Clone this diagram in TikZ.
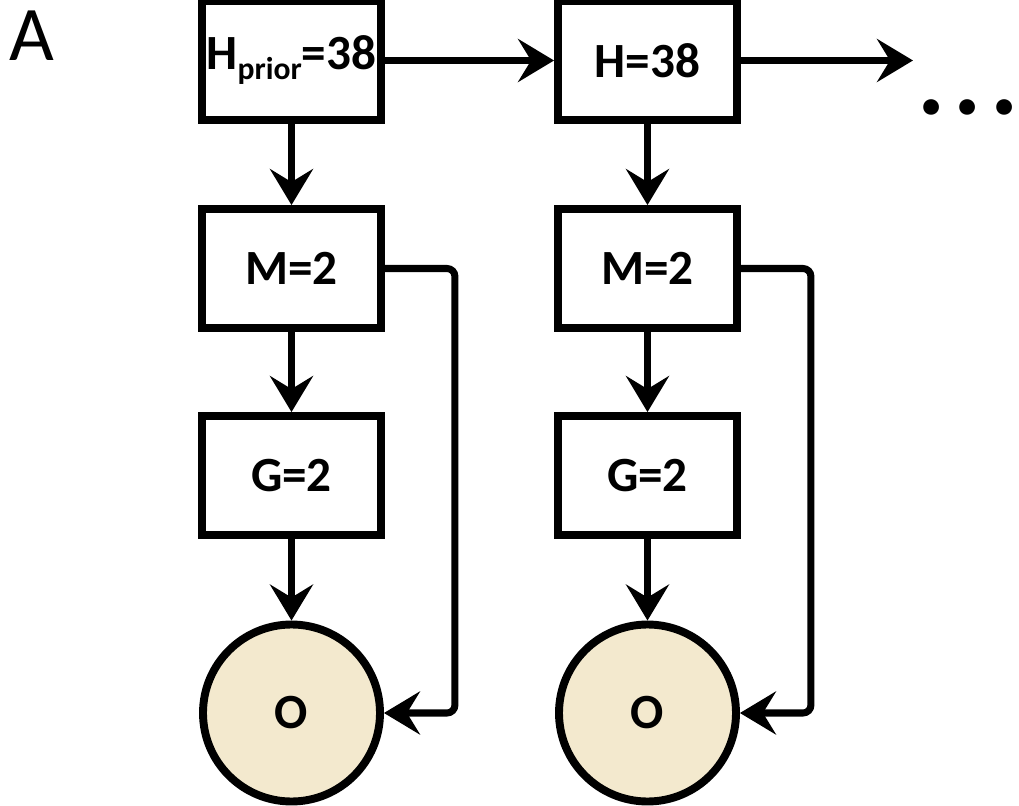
\documentclass[tikz,border=0pt]{standalone}
\usepackage{fontspec}
\setmainfont{Carlito}
\usetikzlibrary{arrows.meta, positioning}
\definecolor{paper}{RGB}{243,233,206}
\newcommand*{\Low}[1]{\raisebox{-0.2cm}{\fontsize{18}{18}\selectfont #1}}

\begin{document}
\begin{tikzpicture}[
    box/.style={draw, line width=4.5pt, minimum width=3.58cm, minimum height=2.38cm, inner sep=0pt, font=\fontsize{28}{28}\selectfont\bfseries},
    obs/.style={draw, circle, line width=4.5pt, fill=paper, minimum size=3.54cm, inner sep=0pt, font=\fontsize{28}{28}\selectfont\bfseries},
    arr/.style={line width=4pt, -{Stealth[length=0.72cm, width=0.86cm, inset=0.26cm]}}]
  \useasboundingbox (0,0) rectangle (20.38,16.1);
  \node[font=\fontsize{44}{44}\selectfont, inner sep=0pt] (lbl) at (0.63,15.39) {A};
  \node[box] (h1) at (5.83,14.89) {H\Low{prior}=38};
  \node[box] (h2) at (12.95,14.89) {H=38};
  \coordinate (next) at (18.26,14.89);
  \node[anchor=base, inner sep=0pt, font=\fontsize{60}{60}\selectfont\bfseries] (dots) at (19.36,13.8) {.\hspace{0.17cm}.\hspace{0.17cm}.};
  \foreach \c/\x in {1/5.83,2/12.95}{
    \node[box] (m\c) at (\x,10.73) {M=2};
    \node[box] (g\c) at (\x,6.59) {G=2};
    \node[obs] (o\c) at (\x,1.84) {O};
    \draw[arr] (h\c) -- (m\c);
    \draw[arr] (m\c) -- (g\c);
    \draw[arr] (g\c) -- (o\c);
    \draw[arr, rounded corners=0.16cm] (m\c.east) -- ++(1.4,0) |- (o\c.east);
  }
  \draw[arr] (h1) -- (h2);
  \draw[arr] (h2) -- (next);
\end{tikzpicture}
\end{document}
